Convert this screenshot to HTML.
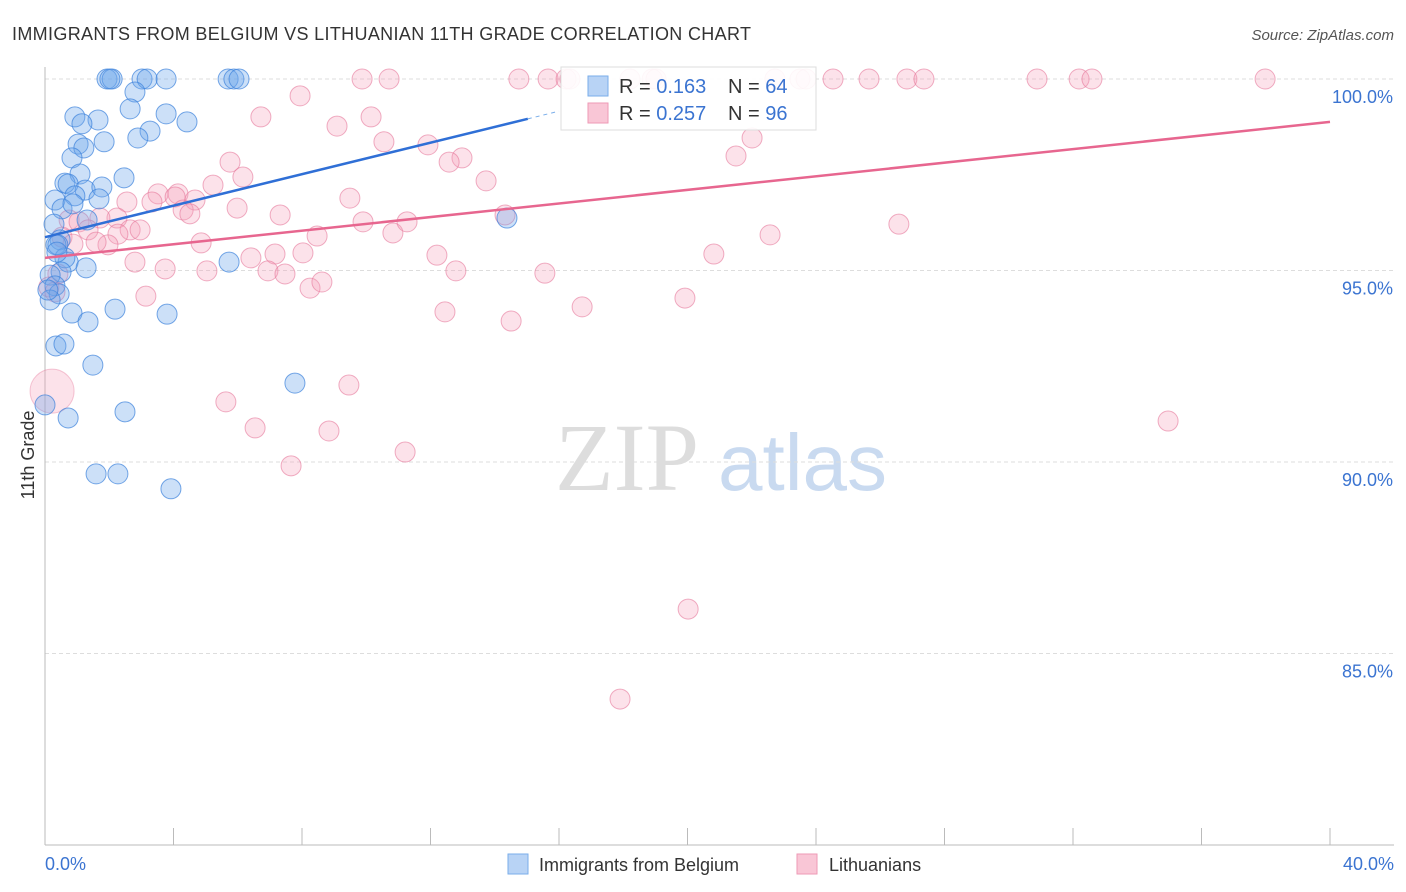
<!DOCTYPE html>
<html><head><meta charset="utf-8"><style>
body{margin:0;background:#fff;font-family:"Liberation Sans",sans-serif;}
#wrap{position:relative;width:1406px;height:892px;overflow:hidden;}
</style></head><body>
<div id="wrap">
<svg id="svg" width="1406" height="892" xmlns="http://www.w3.org/2000/svg">
<text x="12" y="40" font-size="18" fill="#333" textLength="739">IMMIGRANTS FROM BELGIUM VS LITHUANIAN 11TH GRADE CORRELATION CHART</text>
<text x="1394" y="40" font-size="15" fill="#555" font-style="italic" text-anchor="end">Source: ZipAtlas.com</text>
<text x="555" y="490" font-size="96" fill="#ddd" font-family="Liberation Serif,serif">ZIP</text>
<text x="718" y="490" font-size="80" fill="#c9daf0">atlas</text>
<text transform="translate(34,455) rotate(-90)" font-size="18" fill="#333" text-anchor="middle">11th Grade</text>
<g id="grid"></g><g id="pts"></g><g id="lines"></g>
<g>
<rect x="561" y="67" width="255" height="63" fill="#fff" fill-opacity="0.9" stroke="#ddd"/>
<rect x="588" y="76" width="20" height="20" fill="#b8d3f5" stroke="#7aaeea"/>
<rect x="588" y="103" width="20" height="20" fill="#f9c6d6" stroke="#ee9ab6"/>
<text x="619" y="93" font-size="20" fill="#333">R = <tspan fill="#3b74d1">0.163</tspan></text>
<text x="728" y="93" font-size="20" fill="#333">N = <tspan fill="#3b74d1">64</tspan></text>
<text x="619" y="120" font-size="20" fill="#333">R = <tspan fill="#3b74d1">0.257</tspan></text>
<text x="728" y="120" font-size="20" fill="#333">N = <tspan fill="#3b74d1">96</tspan></text>
</g>
<g><rect x="508" y="854" width="20" height="20" fill="#b8d3f5" stroke="#7aaeea"/><text x="539" y="871" font-size="18" fill="#333">Immigrants from Belgium</text></g>
<g><rect x="797" y="854" width="20" height="20" fill="#f9c6d6" stroke="#ee9ab6"/><text x="829" y="871" font-size="18" fill="#333">Lithuanians</text></g>
</svg></div>
<script>
const yTicks=[100,95,90,85];
const xTicks=[0,4,8,12,16,20,24,28,32,36,40];
const blueX=[1.93,2.09,2.02,3.02,3.18,3.77,5.70,5.88,6.04,2.80,2.65,3.77,0.93,1.65,1.15,4.42,3.27,2.89,1.84,1.03,1.21,0.84,2.46,1.09,0.62,0.72,1.25,1.77,0.93,1.68,0.31,0.53,0.87,1.31,0.28,0.47,0.34,0.72,1.28,5.73,0.62,0.50,0.16,0.31,0.44,0.16,0.84,1.34,2.18,3.80,0.34,0.59,1.49,7.78,0.0,0.72,2.49,1.59,2.27,3.92,14.38,0.40,0.09,0.37];
const blueY=[100,100,100,100,100,100,100,100,100,99.66,99.22,99.09,99.01,98.93,98.83,98.88,98.64,98.46,98.36,98.30,98.20,97.94,97.42,97.52,97.28,97.26,97.10,97.18,96.95,96.87,96.84,96.61,96.74,96.32,96.21,95.80,95.67,95.22,95.07,95.22,95.33,94.96,94.88,94.60,94.39,94.23,93.89,93.66,93.99,93.86,93.03,93.08,92.53,92.06,91.49,91.15,91.31,89.69,89.69,89.30,96.37,95.67,94.49,95.48];
const pinkX=[9.87,10.71,14.75,15.66,16.22,16.34,18.21,18.90,19.02,22.72,23.50,23.69,24.53,25.65,26.83,27.36,30.88,32.19,32.59,37.98,7.94,6.72,9.09,10.15,10.55,11.92,12.98,12.58,5.76,6.16,13.73,5.23,3.52,4.14,4.05,9.49,3.33,4.67,4.30,2.55,4.51,5.98,7.32,2.24,0.75,1.71,1.06,2.65,2.27,1.34,2.96,0.53,1.96,0.87,1.59,8.47,9.90,10.83,11.27,14.32,4.86,2.80,3.74,5.04,6.41,7.16,6.94,7.47,8.03,8.25,8.62,12.20,12.79,15.56,3.14,12.45,14.51,16.72,19.92,20.82,22.57,26.58,21.51,22.01,7.66,5.63,6.54,8.84,9.46,11.21,34.96,20.02,17.90,0.40,0.12,0.31];
const pinkY=[100,100,100,100,100,100,100,100,100,100,100,100,100,100,100,100,100,100,100,100,99.56,99.01,98.77,99.01,98.36,98.28,97.94,97.83,97.83,97.44,97.34,97.23,97.0,97.0,96.92,96.89,96.79,96.84,96.58,96.79,96.48,96.63,96.45,96.37,96.32,96.37,96.27,96.06,95.95,96.06,96.06,95.87,95.67,95.69,95.74,95.90,96.27,95.98,96.27,96.45,95.72,95.22,95.04,94.99,95.33,95.43,94.99,94.91,95.46,94.54,94.70,95.40,94.99,94.93,94.33,93.92,93.68,94.05,94.28,95.43,95.93,96.21,97.99,98.46,89.90,91.57,90.89,90.81,92.01,90.26,91.07,86.16,83.81,94.91,94.57,94.44];
const bigPinkX=[0.22], bigPinkY=[91.85];
const blueTrend=[95.87,98.96,15.03];
const pinkTrend=[95.33,98.88,40];
const NS="http://www.w3.org/2000/svg";
const sx=v=>45+v*1285/40, sy=v=>79+(100-v)*38.3;
function mk(t,a,p){const e=document.createElementNS(NS,t);for(const k in a)e.setAttribute(k,a[k]);p.appendChild(e);return e;}
const grid=document.getElementById('grid');
yTicks.forEach(t=>{
 const l=mk('line',{x1:45,x2:1394,y1:sy(t),y2:sy(t),stroke:'#ddd','stroke-dasharray':'4,3'},grid);
 
 
 const tx=mk('text',{x:1393,y:sy(t)+24,'font-size':18,fill:'#3b74d1','text-anchor':'end'},grid);
 tx.textContent=t.toFixed(1)+'%';
 
 
});
mk('line',{x1:45,x2:45,y1:67,y2:845,stroke:'#bbb'},grid);
mk('line',{x1:45,x2:1394,y1:845,y2:845,stroke:'#bbb'},grid);
xTicks.forEach(t=>{
 const l=mk('line',{x1:sx(t),x2:sx(t),y1:828,y2:845,stroke:'#bbb'},grid);
 
 
});
[[0,'0.0%','start',45],[40,'40.0%','end',1394]].forEach(d=>{
 const tx=mk('text',{x:d[3],y:870,'font-size':18,fill:'#3b74d1','text-anchor':d[2]},grid);
 tx.textContent=d[1];
 
 
});
const pts=document.getElementById('pts');
pinkX.forEach((x,i)=>{
 const c=mk('circle',{cx:sx(x),cy:sy(pinkY[i]),r:10,fill:'rgba(245,160,185,0.3)',stroke:'rgba(230,120,155,0.6)'},pts);
 
 
});
bigPinkX.forEach((x,i)=>{
 const c=mk('circle',{cx:sx(x),cy:sy(bigPinkY[i]),r:22,fill:'rgba(245,160,185,0.3)',stroke:'rgba(230,120,155,0.4)'},pts);
 
 
});
blueX.forEach((x,i)=>{
 const c=mk('circle',{cx:sx(x),cy:sy(blueY[i]),r:10,fill:'rgba(110,165,235,0.35)',stroke:'rgba(60,130,220,0.7)'},pts);
 
 
});
const lines=document.getElementById('lines');
const bl=mk('line',{x1:sx(0),y1:sy(blueTrend[0]),x2:sx(blueTrend[2]),y2:sy(blueTrend[1]),stroke:'#2f6fd6','stroke-width':2.5},lines);


const slope=(blueTrend[1]-blueTrend[0])/blueTrend[2];
const bd=mk('line',{x1:sx(blueTrend[2]),y1:sy(blueTrend[1]),x2:sx(16),y2:sy(blueTrend[0]+slope*16),stroke:'#7aaeea','stroke-width':1,'stroke-dasharray':'4,4'},lines);


const pl=mk('line',{x1:sx(0),y1:sy(pinkTrend[0]),x2:sx(pinkTrend[2]),y2:sy(pinkTrend[1]),stroke:'#e7668f','stroke-width':2.5},lines);


</script>
</body></html>
